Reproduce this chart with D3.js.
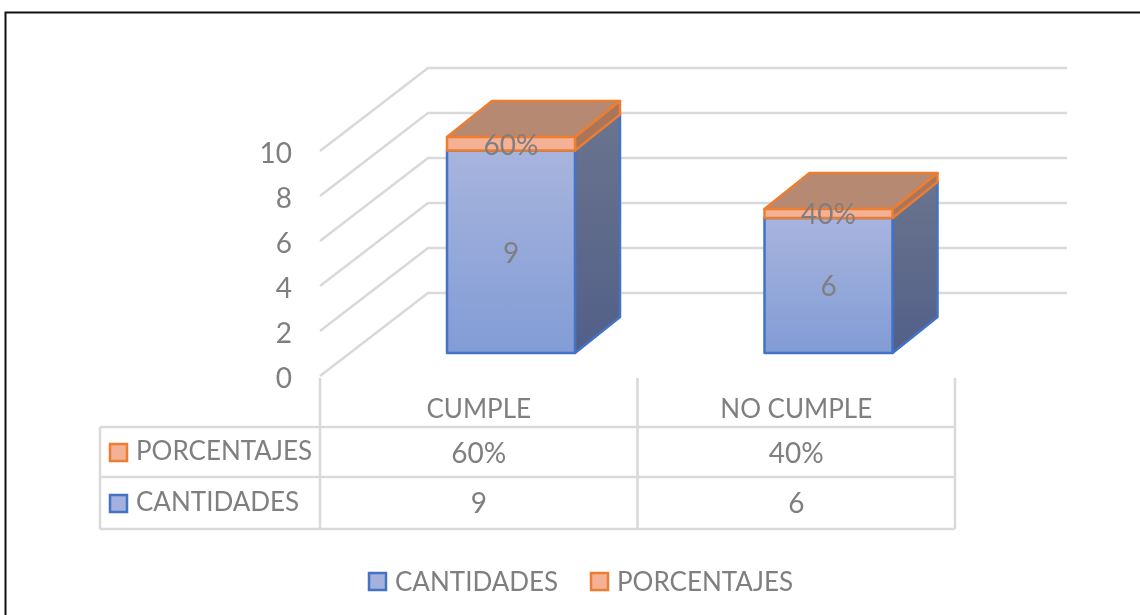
<!DOCTYPE html>
<html>
<head>
<meta charset="utf-8">
<script src="https://cdn.jsdelivr.net/npm/d3@7"></script>
<style>
    html, body { margin: 0; padding: 0; background: #fff; overflow: hidden; }
    svg { display: block; filter: blur(0.5px); }
    text { font-family: Lato, "Open Sans", sans-serif; fill: #7f7f7f; }
</style>
</head>
<body>
<div id="chart"></div>
<script>
const categories = ['CUMPLE', 'NO CUMPLE'];
const cantidades = [9, 6];
const porcentajes = [0.6, 0.4];
const yTicks = [0, 2, 4, 6, 8, 10];
const seriesNames = ['CANTIDADES', 'PORCENTAJES'];

const width = 1140;
const height = 615;
const fontSize = 26;
const gridColor = '#d9d9d9';
const blue = '#4472c4';
const orange = '#ed7d31';

const svg = d3.select('#chart')
    .append('svg')
    .attr('width', width)
    .attr('height', height);

// Gradients for the bar faces
const defs = svg.append('defs');
function addGradient(id, top, bottom) {
    const g = defs.append('linearGradient')
        .attr('id', id)
        .attr('x1', 0).attr('y1', 0)
        .attr('x2', 0).attr('y2', 1);
    g.append('stop').attr('offset', '0%').attr('stop-color', top);
    g.append('stop').attr('offset', '100%').attr('stop-color', bottom);
}
addGradient('front-blue', '#a7b4de', '#829cd5');
addGradient('side-blue', '#6a748e', '#525f88');

// Outer frame: only top and left edges are visible
svg.append('path')
    .attr('d', `M5.5,${height} V12.5 H${width}`)
    .attr('fill', 'none')
    .attr('stroke', '#111')
    .attr('stroke-width', 2);

// Scales
const xScale = d3.scaleBand()
    .domain(categories)
    .range([320, 955]);

const yScale = d3.scaleLinear()
    .domain([0, 10])
    .range([376, 151]);

// Depth offsets of the 3D view
const wallDepth = { dx: 108, dy: -83 };
const barDepth = { dx: 45, dy: -36 };
const barPlaneRaise = 23;
const barInset = 127;
const barWidth = 128;
const gridRight = 1067;

// Floor + wall gridlines
const grid = svg.append('g')
    .attr('fill', 'none')
    .attr('stroke', gridColor)
    .attr('stroke-width', 2.5);

grid.selectAll('path')
    .data(yTicks)
    .join('path')
    .attr('d', d => {
        const x0 = xScale.range()[0];
        const y0 = yScale(d);
        return `M${x0},${y0} L${x0 + wallDepth.dx},${y0 + wallDepth.dy} H${gridRight}`;
    });

// Y axis labels
const yAxis = svg.append('g')
    .attr('transform', `translate(${xScale.range()[0]}, 3)`)
    .call(d3.axisLeft(yScale).tickValues(yTicks).tickSize(0).tickPadding(28));
yAxis.select('.domain').remove();
yAxis.selectAll('text')
    .style('font-size', `${fontSize + 2}px`)
    .style('font-family', 'Lato, "Open Sans", sans-serif')
    .attr('fill', '#7f7f7f');

// One 3D box: front, top and side faces
function drawBox(g, x, yBottom, yTop, front, side, top, stroke) {
    const { dx, dy } = barDepth;
    const x2 = x + barWidth;
    const faces = [
        { d: `M${x2},${yBottom} L${x2 + dx},${yBottom + dy} V${yTop + dy} L${x2},${yTop} Z`, fill: side },
        { d: `M${x},${yTop} L${x + dx},${yTop + dy} H${x2 + dx} L${x2},${yTop} Z`, fill: top },
        { d: `M${x},${yBottom} H${x2} V${yTop} H${x} Z`, fill: front }
    ];
    g.selectAll(null)
        .data(faces)
        .join('path')
        .attr('d', d => d.d)
        .attr('fill', d => d.fill)
        .attr('stroke', stroke)
        .attr('stroke-width', 2.5)
        .attr('stroke-linejoin', 'round');
}

const yBar = v => yScale(v) - barPlaneRaise;

categories.forEach((cat, i) => {
    const g = svg.append('g');
    const x = xScale(cat) + barInset;
    const top = cantidades[i] + porcentajes[i];

    drawBox(g, x, yBar(0), yBar(cantidades[i]), 'url(#front-blue)', 'url(#side-blue)', '#6b7690', blue);
    drawBox(g, x, yBar(cantidades[i]), yBar(top), '#f4b196', '#a9765b', '#b68a72', orange);

    const cx = x + barWidth / 2;
    g.append('text')
        .attr('x', cx)
        .attr('y', (yBar(0) + yBar(cantidades[i])) / 2 + 1)
        .attr('dy', '0.35em')
        .attr('text-anchor', 'middle')
        .style('font-size', `${fontSize + 2}px`)
        .text(cantidades[i]);
    g.append('text')
        .attr('x', cx)
        .attr('y', (yBar(cantidades[i]) + yBar(top)) / 2 + 1)
        .attr('dy', '0.35em')
        .attr('text-anchor', 'middle')
        .style('font-size', `${fontSize + 2}px`)
        .text(d3.format('.0%')(porcentajes[i]));
});

// Data table under the plot
const tableLeft = 100;
const rowLines = [427, 477, 529];
const table = svg.append('g')
    .attr('stroke', gridColor)
    .attr('stroke-width', 2.5);

rowLines.forEach(y => {
    table.append('line')
        .attr('x1', tableLeft).attr('x2', xScale.range()[1])
        .attr('y1', y).attr('y2', y);
});

[...categories.map(c => xScale(c)), xScale.range()[1]].forEach(x => {
    table.append('line')
        .attr('x1', x).attr('x2', x)
        .attr('y1', 378).attr('y2', rowLines[2]);
});
table.append('line')
    .attr('x1', tableLeft).attr('x2', tableLeft)
    .attr('y1', rowLines[0]).attr('y2', rowLines[2]);

function addKey(x, y, fill, stroke) {
    svg.append('rect')
        .attr('x', x + 1).attr('y', y + 1)
        .attr('width', 17).attr('height', 17)
        .attr('fill', fill)
        .attr('stroke', stroke)
        .attr('stroke-width', 2.5);
}

function addLabel(x, y, label, anchor, size) {
    svg.append('text')
        .attr('x', x)
        .attr('y', y)
        .attr('dy', '0.35em')
        .attr('text-anchor', anchor || 'start')
        .style('font-size', `${size || fontSize}px`)
        .text(label);
}

categories.forEach((cat, i) => {
    const cx = xScale(cat) + xScale.bandwidth() / 2;
    addLabel(cx, 409, cat, 'middle');
    addLabel(cx, 453, d3.format('.0%')(porcentajes[i]), 'middle', fontSize + 2);
    addLabel(cx, 503, cantidades[i], 'middle', fontSize + 2);
});

addKey(109, 443, '#f4b196', orange);
addLabel(136, 451, seriesNames[1]);
addKey(109, 494, '#a3b1dc', blue);
addLabel(136, 502, seriesNames[0]);

// Legend
addKey(368, 572, '#a3b1dc', blue);
addLabel(395, 582, seriesNames[0]);
addKey(590, 572, '#f4b196', orange);
addLabel(617, 582, seriesNames[1]);
</script>
</body>
</html>
